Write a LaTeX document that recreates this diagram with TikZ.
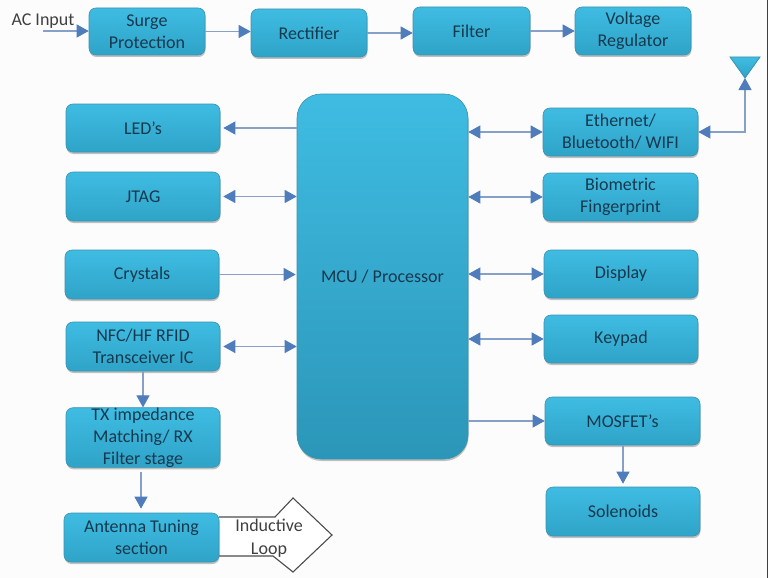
\documentclass[tikz,border=0pt]{standalone}
\usepackage{fontspec}
\setmainfont{Carlito}
\usetikzlibrary{arrows.meta,shadows,calc}
\definecolor{txt}{HTML}{17394E}
\definecolor{linec}{HTML}{86A0C8}
\definecolor{headc}{HTML}{4F7DBB}
\definecolor{boxtop}{HTML}{3FBCE2}
\definecolor{boxbot}{HTML}{2FA3C8}
\definecolor{boxedge}{HTML}{3A93B0}
\tikzset{
  x=1pt,y=-1pt,
  block/.style={rounded corners=7pt,draw=boxedge,line width=0.6pt,top color=boxtop,bottom color=boxbot,
    text=txt,align=center,inner sep=0pt,font=\fontsize{18}{22}\selectfont,
    drop shadow={shadow xshift=0.5pt,shadow yshift=-2pt,fill=black!60,opacity=.4}},
  conn/.style={draw=linec,line width=1.1pt,-{Triangle[length=12pt,width=13pt,fill=headc,color=headc]}},
  biconn/.style={draw=linec,line width=1.1pt,{Triangle[length=12pt,width=13pt,fill=headc,color=headc]}-{Triangle[length=12pt,width=13pt,fill=headc,color=headc]}},
  plain/.style={text=black!75,inner sep=0pt,align=center,font=\fontsize{18}{23}\selectfont},
}
\newcommand{\blk}[6]{\node[block,minimum width={(#4-#2)*1pt},minimum height={(#5-#3)*1pt}] (#1) at ({(#2+#4)/2},{(#3+#5)/2}) {#6};}
\begin{document}
\begin{tikzpicture}
\useasboundingbox (0,0) rectangle (768,578);
\fill[white!99!black] (0,0) rectangle (768,578);
\draw[black!75,line width=1.2pt] (767.4,0) -- (767.4,578);
% inductive loop outline
\node[inner sep=0pt,minimum size=0pt] (loopbase) at (219,536) {};
\draw[black!70,line width=1.1pt,fill=white] (loopbase.center) ++(0,-19) -- (275,517) -- (293,498) -- (332,535) -- (293,572) -- (273,556) -- (219,556);
\node[plain] (looptxt) at (269,538) {Inductive\\Loop};
% top row
\blk{surge}{89}{8}{205}{55}{Surge\\Protection}
\blk{rect}{251}{9}{367}{57}{Rectifier}
\blk{filt}{413}{7}{530}{55}{Filter}
\blk{volt}{575}{7}{691}{55}{Voltage\\Regulator}
% left column
\blk{led}{66}{104}{220}{152}{LED’s}
\blk{jtag}{66}{172}{220}{221}{JTAG}
\blk{crys}{65}{250}{219}{299}{Crystals}
\blk{nfc}{66}{322}{220}{371}{NFC/HF RFID\\Transceiver IC}
\blk{tx}{66}{408}{220}{467}{TX impedance\\Matching/ RX\\Filter stage}
\blk{ant}{64}{513}{219}{562}{Antenna Tuning\\section}
% MCU
\node[block,rounded corners=24pt,top color=boxtop,bottom color=boxbot!92!black,minimum width=171pt,minimum height=365pt] (mcu) at (382.5,276.5) {MCU / Processor};
% right column
\blk{eth}{543}{108}{698}{156}{Ethernet/\\Bluetooth/ WIFI}
\blk{bio}{543}{173}{698}{221}{Biometric\\Fingerprint}
\blk{disp}{544}{250}{698}{298}{Display}
\blk{key}{544}{315}{698}{363}{Keypad}
\blk{mos}{545}{397}{700}{445}{MOSFET’s}
\blk{sol}{546}{487}{700}{536}{Solenoids}
% antenna
\coordinate (anttip) at (745,78);
\draw[boxedge,line width=.8pt,top color=boxtop,bottom color=boxbot] (730,57) -- (760,57) -- (anttip) -- cycle;
% AC input
\node[plain] (acin) at (43,21) {AC Input};
\coordinate (acstart) at (43,31);
\draw[conn] (acstart) -- (surge.west |- acstart);
% connectors
\draw[conn] (surge.east) -- (surge.east -| rect.west);
\draw[conn] (rect.east) -- (rect.east -| filt.west);
\draw[conn] (filt.east) -- (filt.east -| volt.west);
\draw[conn,shorten >=3pt] (mcu.west |- led.east) -- (led.east);
\draw[biconn,shorten <=3pt] (jtag.east) -- (jtag.east -| mcu.west);
\draw[conn,shorten >=1pt] (crys.east) -- (crys.east -| mcu.west);
\draw[biconn,shorten <=3pt] (nfc.east) -- (nfc.east -| mcu.west);
\draw[conn] (nfc.south -| 143,0) -- (tx.north -| 143,0);
\draw[conn,shorten <=4pt,shorten >=4pt] (tx.south -| 141,0) -- (ant.north -| 141,0);
\draw[biconn] (mcu.east |- eth.west) -- (eth.west);
\draw[biconn] (mcu.east |- bio.west) -- (bio.west);
\draw[biconn] (mcu.east |- disp.west) -- (disp.west);
\draw[biconn] (mcu.east |- key.west) -- (key.west);
\draw[conn] (mcu.east |- mos.west) -- (mos.west);
\draw[conn,shorten >=3pt] (mos.south -| 623,0) -- (sol.north -| 623,0);
\draw[biconn] (eth.east) -| (anttip);
\end{tikzpicture}
\end{document}
